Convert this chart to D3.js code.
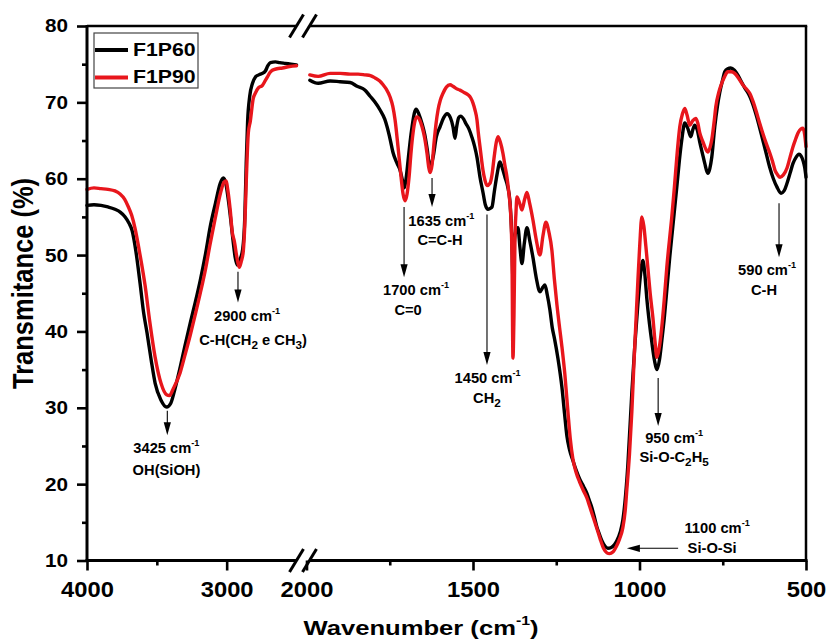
<!DOCTYPE html>
<html><head><meta charset="utf-8">
<script src="https://cdn.jsdelivr.net/npm/d3@7"></script>
<style>
body{margin:0;background:#fff}
svg{display:block}
text{font-family:"Liberation Sans",Arial,sans-serif;font-weight:bold;fill:#000}
</style>
</head><body>
<svg id="chart" width="827" height="640"></svg>
<script>
// ---------- data (wavenumber cm-1, transmittance %) ----------
const seriesNames = ["F1P60", "F1P90"];
const seriesColors = ["#000000", "#e8161c"];

const p60Left = [[4000,56.5],[3950,56.6],[3900,56.5],[3850,56.3],[3800,56.0],[3760,55.6],[3727,55.0],[3700,54.2],[3677,53.2],[3650,50.5],[3620,46.3],[3595,42.5],[3570,39.8],[3540,36.2],[3512,33.2],[3470,31.0],[3430,30.1],[3400,30.6],[3370,32.5],[3333,35.3],[3300,38.0],[3261,41.1],[3225,43.8],[3189,46.7],[3150,50.3],[3118,53.7],[3080,56.8],[3046,59.4],[3024,60.1],[3005,59.3],[2988,57.2],[2970,54.5],[2955,52.0],[2940,49.8],[2924,48.7],[2905,49.4],[2885,50.8],[2870,55],[2860,62],[2850,67.5],[2835,70.8],[2815,72.5],[2795,73.3],[2770,73.6],[2745,73.8],[2723,74.1],[2705,74.8],[2687,75.2],[2651,75.3],[2620,75.2],[2580,75.1],[2540,75.0],[2500,74.9]];

const p90Left = [[4000,58.6],[3950,58.8],[3900,58.7],[3850,58.6],[3800,58.4],[3763,58.0],[3730,57.3],[3706,56.4],[3680,55.2],[3656,53.5],[3620,50.0],[3584,46.0],[3550,41.2],[3512,36.6],[3470,33.2],[3430,31.7],[3410,31.6],[3380,32.6],[3333,34.6],[3300,36.8],[3261,39.5],[3225,42.2],[3189,45.0],[3150,48.3],[3118,51.5],[3080,55.0],[3046,58.0],[3020,59.5],[3005,59.7],[2990,58.3],[2974,55.8],[2960,53.0],[2945,51.8],[2925,49.5],[2910,48.4],[2895,49.2],[2881,50.5],[2870,54],[2859,60],[2845,66],[2831,67.5],[2810,70.5],[2795,71.2],[2773,71.9],[2745,72.2],[2725,72.8],[2709,73.3],[2690,73.9],[2673,74.2],[2640,74.4],[2600,74.5],[2550,74.7],[2500,74.8]];

const p60Right = [[1990,72.9],[1965,72.5],[1929,72.8],[1899,72.7],[1869,72.6],[1848,72.1],[1824,71.6],[1809,70.8],[1794,70.0],[1779,69.0],[1765,67.8],[1758,66.8],[1749,65.2],[1740,63.4],[1728,62.0],[1719,61.1],[1712,59.8],[1707,58.8],[1701,60.0],[1695,62.4],[1689,64.8],[1683,66.8],[1676,68.6],[1671,69.1],[1662,68.4],[1653,67.2],[1645,65.8],[1638,64.0],[1629,61.5],[1620,62.8],[1610,65.5],[1599,66.8],[1588,68.0],[1578,68.5],[1568,68.0],[1560,66.8],[1554,65.3],[1549,66.8],[1543,68.0],[1537,68.2],[1528,67.8],[1521,67.2],[1512,66.5],[1503,65.4],[1495,64.2],[1488,62.8],[1479,60.2],[1470,58.2],[1463,56.6],[1455,56.0],[1449,56.1],[1443,56.3],[1436,58.3],[1428,60.5],[1419,62.2],[1412,61.4],[1404,60.2],[1396,59.0],[1389,57.0],[1384,53.0],[1380,47.0],[1377,51.0],[1372,53.0],[1365,53.6],[1359,51.0],[1353,48.9],[1346,51.5],[1338,53.6],[1330,52.0],[1320,49.7],[1310,47.0],[1299,45.2],[1290,45.8],[1284,46.1],[1277,44.8],[1269,42.8],[1262,40.5],[1255,39.0],[1245,36.5],[1233,32.7],[1225,29.2],[1218,26.3],[1210,24.5],[1200,23.1],[1190,21.8],[1179,20.6],[1168,19.7],[1158,18.8],[1150,17.8],[1143,16.9],[1135,15.6],[1128,14.4],[1120,13.4],[1113,12.6],[1104,11.9],[1095,11.6],[1085,11.7],[1075,12.1],[1068,12.6],[1058,13.7],[1050,15.3],[1044,17.5],[1035,22.5],[1023,32.0],[1014,38.2],[1005,43.5],[998,47.0],[990,49.3],[984,47.5],[978,44.3],[970,41.0],[963,38.6],[955,36.2],[948,35.0],[940,36.3],[933,38.8],[925,42.0],[918,45.4],[909,49.8],[900,53.7],[888,58.9],[880,62.5],[873,65.1],[864,67.3],[855,66.6],[846,65.5],[840,66.4],[834,67.0],[826,66.3],[819,64.8],[811,63.3],[804,62.0],[795,60.7],[789,61.3],[783,62.8],[774,66.8],[766,69.5],[759,71.3],[750,73.0],[744,74.0],[735,74.4],[726,74.5],[715,74.2],[705,73.6],[694,72.7],[684,71.9],[675,71.3],[669,70.8],[660,69.8],[648,68.1],[640,66.8],[630,65.1],[620,63.4],[609,61.5],[598,60.0],[587,58.9],[575,58.1],[566,58.4],[557,59.4],[548,60.7],[539,62.0],[530,62.8],[521,63.2],[515,63.0],[509,62.4],[504,61.5],[500,60.2]];

const p90Right = [[1990,73.6],[1965,73.4],[1929,73.8],[1899,73.8],[1869,73.7],[1845,73.7],[1824,73.6],[1808,73.5],[1794,73.2],[1780,72.8],[1770,72.3],[1760,71.7],[1749,70.7],[1741,69.5],[1734,67.7],[1725,64.1],[1716,60.2],[1710,58.0],[1704,57.1],[1698,58.0],[1692,60.2],[1686,63.5],[1680,66.0],[1674,67.6],[1668,68.1],[1660,67.7],[1653,66.8],[1645,65.3],[1638,63.3],[1633,61.5],[1629,60.8],[1623,61.8],[1617,64.7],[1611,67.2],[1605,69.0],[1598,70.3],[1590,71.2],[1580,72.0],[1569,72.3],[1560,72.1],[1550,71.8],[1539,71.6],[1527,71.3],[1515,71.0],[1507,70.6],[1500,69.9],[1494,69.0],[1488,67.7],[1484,66.0],[1479,64.2],[1474,62.4],[1470,61.1],[1464,59.8],[1458,59.1],[1449,59.4],[1443,60.5],[1436,63.0],[1430,64.8],[1425,65.5],[1418,64.8],[1410,63.3],[1404,61.7],[1398,60.2],[1392,58.0],[1387,55.5],[1383,50.0],[1380,36.5],[1377,42.0],[1374,52.0],[1371,55.5],[1368,57.6],[1360,56.8],[1353,55.9],[1345,57.3],[1338,58.2],[1330,56.8],[1320,54.6],[1310,52.0],[1299,50.0],[1290,52.5],[1281,54.3],[1272,53.0],[1263,50.6],[1256,47.0],[1248,43.5],[1240,40.5],[1233,38.0],[1224,34.3],[1215,29.5],[1208,26.0],[1200,23.3],[1190,21.5],[1180,20.3],[1170,19.3],[1158,18.2],[1149,17.0],[1140,15.8],[1128,14.2],[1118,12.8],[1108,11.6],[1098,11.0],[1090,10.9],[1080,11.1],[1070,11.8],[1060,12.8],[1050,14.3],[1043,16.5],[1038,19.3],[1030,24.0],[1023,29.5],[1017,35.5],[1011,41.0],[1005,46.5],[999,51.5],[993,55.0],[987,53.8],[981,51.2],[975,48.4],[968,45.0],[960,41.9],[953,38.5],[948,36.6],[942,37.5],[933,40.6],[926,44.0],[918,48.4],[910,52.0],[903,55.0],[895,59.0],[888,62.8],[879,66.8],[871,68.5],[864,69.2],[857,68.3],[849,67.0],[840,67.6],[831,67.9],[825,67.3],[819,66.0],[811,65.0],[804,64.2],[795,63.5],[789,64.0],[783,65.1],[775,67.8],[771,69.4],[762,71.3],[753,72.5],[744,73.4],[735,74.0],[725,74.0],[714,73.8],[703,73.2],[690,72.3],[680,71.8],[669,71.2],[658,70.0],[648,68.6],[640,67.4],[630,66.0],[620,64.7],[609,63.4],[600,62.2],[593,61.1],[585,60.5],[578,60.2],[568,60.5],[557,61.4],[548,62.8],[539,64.2],[531,65.2],[524,66.0],[516,66.5],[509,66.6],[504,65.8],[500,64.2]];

const yTicks = [10,20,30,40,50,60,70,80];
const yMinorTicks = [15,25,35,45,55,65,75];
const xTicksLeft = [4000,3000];
const xMinorLeft = [3500];
const xTicksRight = [2000,1500,1000,500];
const xMinorRight = [1750,1250,750];
const xTitle = "Wavenumber (cm^-1)";
const yTitle = "Transmitance (%)";

// annotation arrows: segment, from [wn,T] to [wn,T]
const arrows = [
  ["L",[3425,29.6],[3425,26.4]],
  ["L",[2919,47.8],[2919,43.8]],
  ["R",[1707,56.3],[1707,47.1]],
  ["R",[1623,60.1],[1623,56.3]],
  ["R",[1458,55.3],[1458,35.6]],
  ["R",[944,33.9],[944,27.6]],
  ["R",[884,11.6],[1038,11.6]],
  ["R",[581,56.8],[581,49.7]]
];
// annotation labels: segment, wn (centre), T (baseline), text
const labels = [
  ["L",3432,24.1,"3425 cm^-1"],["L",3431,21.2,"OH(SiOH)"],
  ["L",2854,41.4,"2900 cm^-1"],["L",2811,38.2,"C-H(CH_2 e CH_3)"],
  ["R",1671,44.8,"1700 cm^-1"],["R",1695,42.2,"C=0"],
  ["R",1595,53.8,"1635 cm^-1"],["R",1599,51.3,"C=C-H"],
  ["R",1456,33.25,"1450 cm^-1"],["R",1458,30.6,"CH_2"],
  ["R",896,25.4,"950 cm^-1"],["R",896,22.9,"Si-O-C_2H_5"],
  ["R",767,13.6,"1100 cm^-1"],["R",782,11.0,"Si-O-Si"],
  ["R",617,47.4,"590 cm^-1"],["R",626,44.8,"C-H"]
];

// ---------- scales ----------
const svg = d3.select("#chart");
const xL = d3.scaleLinear().domain([4000,2500]).range([87,296.5]);
const xR = d3.scaleLinear().domain([2000,500]).range([306.5,806]);
const y = d3.scaleLinear().domain([10,80]).range([560.5,26]);
const X = seg => seg === "L" ? xL : xR;

// rich text helper (^-1 superscript, _d subscript)
function rich(textSel, str, size){
  const parts = str.split(/(\^-1|_\d)/).filter(s => s.length);
  let off = 0;
  parts.forEach(p => {
    let target, txt, fs;
    if (p[0] === "^"){ target = -size*0.5; txt = p.slice(1); fs = size*0.62; }
    else if (p[0] === "_"){ target = size*0.3; txt = p.slice(1); fs = size*0.8; }
    else { target = 0; txt = p; fs = size; }
    textSel.append("tspan").attr("dy", target - off).attr("font-size", fs).text(txt);
    off = target;
  });
}
function label(parent, x, yy, str, size, sx, anchor){
  const g = parent.append("g").attr("transform", `translate(${x},${yy}) scale(${sx},1)`);
  const t = g.append("text").attr("text-anchor", anchor || "middle").attr("font-size", size);
  rich(t, str, size);
  return g;
}

// ---------- curves ----------
const lineL = d3.line().x(d => xL(d[0])).y(d => y(d[1])).curve(d3.curveMonotoneX);
const lineR = d3.line().x(d => xR(d[0])).y(d => y(d[1])).curve(d3.curveMonotoneX);
const curves = svg.append("g").attr("fill","none").attr("stroke-width",3.4)
  .attr("stroke-linejoin","round").attr("stroke-linecap","round");
[[p60Left,p60Right],[p90Left,p90Right]].forEach((s,i) => {
  curves.append("path").attr("d", lineL(s[0])).attr("stroke", seriesColors[i]);
  curves.append("path").attr("d", lineR(s[1])).attr("stroke", seriesColors[i]);
});

// ---------- frame & axes ----------
const x0 = xL.range()[0], x1 = xL.range()[1], x2 = xR.range()[0], x3 = xR.range()[1];
const yb = y.range()[0], yt = y.range()[1];
const frame = svg.append("g").attr("stroke","#000").attr("fill","none");
frame.append("line").attr("x1",x0).attr("x2",x0).attr("y1",yt-1).attr("y2",yb+1.5).attr("stroke-width",3);
frame.append("line").attr("x1",x0-1.5).attr("x2",x1).attr("y1",yb).attr("y2",yb).attr("stroke-width",3);
frame.append("line").attr("x1",x2+3).attr("x2",x3+1.5).attr("y1",yb).attr("y2",yb).attr("stroke-width",3);
frame.append("line").attr("x1",x0).attr("x2",x1).attr("y1",yt).attr("y2",yt).attr("stroke-width",2.5);
frame.append("line").attr("x1",x2+3).attr("x2",x3+1.2).attr("y1",yt).attr("y2",yt).attr("stroke-width",2.5);
frame.append("line").attr("x1",x3).attr("x2",x3).attr("y1",yt).attr("y2",yb).attr("stroke-width",2.5);
// break marks
[yb, yt].forEach(yy => {
  [x1, x2 + 3].forEach(cx => {
    frame.append("line").attr("x1",cx-7).attr("y1",yy+11.5).attr("x2",cx+7).attr("y2",yy-11.5).attr("stroke-width",3);
  });
});

function styleAxis(g, fs, sx, isY){
  g.select(".domain").remove();
  g.selectAll(".tick line").attr("stroke","#000").attr("stroke-width",2.6);
  g.selectAll(".tick text").attr("font-size",fs).attr("font-family",'"Liberation Sans",Arial,sans-serif')
    .attr("font-weight","bold").attr("fill","#000").attr("transform",`scale(${sx},1)`);
  if (isY) g.selectAll(".tick text").attr("x", -19/sx);
}
const gyMaj = svg.append("g").attr("transform",`translate(${x0},0)`)
  .call(d3.axisLeft(y).tickValues(yTicks).tickSize(10).tickPadding(9).tickFormat(d3.format("d")));
styleAxis(gyMaj, 18.5, 1.12, true);
const gyMin = svg.append("g").attr("transform",`translate(${x0},0)`)
  .call(d3.axisLeft(y).tickValues(yMinorTicks).tickSize(5).tickFormat(""));
styleAxis(gyMin, 18, 1, false);

[[xL,xTicksLeft,xMinorLeft],[xR,xTicksRight,xMinorRight]].forEach(([sc,maj,mn]) => {
  const gM = svg.append("g").attr("transform",`translate(0,${yb})`)
    .call(d3.axisBottom(sc).tickValues(maj).tickSize(10).tickPadding(11).tickFormat(d3.format("d")));
  styleAxis(gM, 22, 1.08, false);
  const gm = svg.append("g").attr("transform",`translate(0,${yb})`)
    .call(d3.axisBottom(sc).tickValues(mn).tickSize(5).tickFormat(""));
  styleAxis(gm, 22, 1, false);
});

// axis titles
label(svg, 421, 635, xTitle, 21, 1.22);
const yt0 = svg.append("g").attr("transform","translate(33,283.5) scale(1.15,1) rotate(-90)");
rich(yt0.append("text").attr("text-anchor","middle").attr("font-size",25.5), yTitle, 25.5);

// ---------- annotations ----------
const ann = svg.append("g");
arrows.forEach(([seg,a,b]) => {
  const sc = X(seg);
  const ax = sc(a[0]), ay = y(a[1]), bx = sc(b[0]), by = y(b[1]);
  const ang = Math.atan2(by-ay, bx-ax);
  const L = 13, W = 3.6;
  ann.append("line").attr("x1",ax).attr("y1",ay).attr("x2",bx - Math.cos(ang)*L*0.8).attr("y2",by - Math.sin(ang)*L*0.8)
    .attr("stroke","#000").attr("stroke-width",1.1);
  const bxl = bx - Math.cos(ang)*L, byl = by - Math.sin(ang)*L;
  const px = -Math.sin(ang)*W, py = Math.cos(ang)*W;
  ann.append("path").attr("d",`M${bx},${by}L${bxl+px},${byl+py}L${bxl-px},${byl-py}Z`).attr("fill","#000");
});
labels.forEach(([seg,wn,t,str]) => label(ann, X(seg)(wn), y(t), str, 14, 1.05));

// ---------- legend ----------
const lg = svg.append("g");
lg.append("rect").attr("x",94).attr("y",33).attr("width",104).attr("height",55)
  .attr("fill","#fff").attr("stroke","#444").attr("stroke-width",1.2);
seriesNames.forEach((n,i) => {
  const yy = 50 + i*27.5;
  lg.append("line").attr("x1",95).attr("x2",128).attr("y1",yy).attr("y2",yy)
    .attr("stroke",seriesColors[i]).attr("stroke-width",4);
  label(lg, 133, yy + 5.8, n, 18.5, 1.15, "start");
});
</script>
</body></html>
